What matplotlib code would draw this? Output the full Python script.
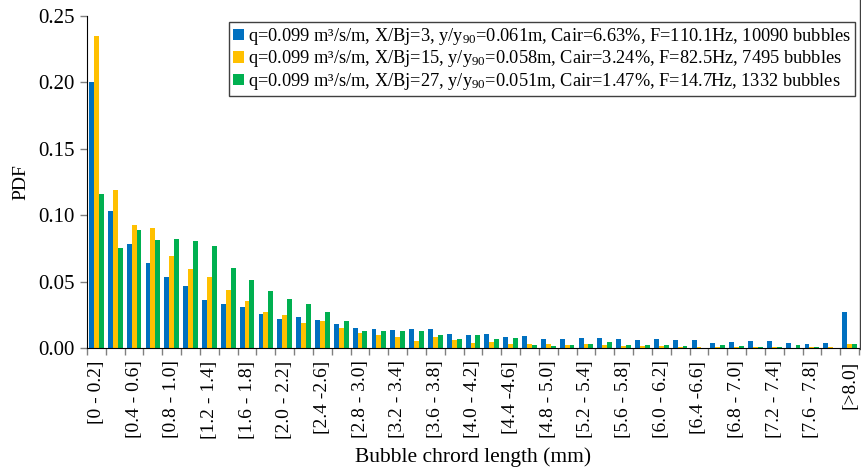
import numpy as np
import matplotlib
matplotlib.use("Agg")
from matplotlib import pyplot as plt
from matplotlib.lines import Line2D

plt.rcParams["font.family"] = ["Liberation Serif", "DejaVu Serif"]
plt.rcParams["mathtext.fontset"] = "custom"
plt.rcParams["mathtext.rm"] = "Liberation Serif"
plt.rcParams["mathtext.it"] = "Liberation Serif:italic"

# bin labels (every other one is shown on the axis)
bin_labels = ["[0 - 0.2]", "[0.2 - 0.4]", "[0.4 - 0.6]", "[0.6 - 0.8]", "[0.8 - 1.0]",
              "[1.0 - 1.2]", "[1.2 - 1.4]", "[1.4 - 1.6]", "[1.6 - 1.8]", "[1.8 - 2.0]",
              "[2.0 - 2.2]", "[2.2 - 2.4]", "[2.4 -2.6]", "[2.6 - 2.8]", "[2.8 - 3.0]",
              "[3.0 - 3.2]", "[3.2 - 3.4]", "[3.4 - 3.6]", "[3.6 - 3.8]", "[3.8 - 4.0]",
              "[4.0 - 4.2]", "[4.2 - 4.4]", "[4.4 -4.6]", "[4.6 - 4.8]", "[4.8 - 5.0]",
              "[5.0 - 5.2]", "[5.2 - 5.4]", "[5.4 - 5.6]", "[5.6 - 5.8]", "[5.8 - 6.0]",
              "[6.0 - 6.2]", "[6.2 - 6.4]", "[6.4 -6.6]", "[6.6 - 6.8]", "[6.8 - 7.0]",
              "[7.0 - 7.2]", "[7.2 - 7.4]", "[7.4 - 7.6]", "[7.6 - 7.8]", "[7.8 - 8.0]",
              "[>8.0]"]

pdf_xbj3 = [0.200, 0.1035, 0.078, 0.0637, 0.0534, 0.0466, 0.0361, 0.0329, 0.0308, 0.0256,
            0.022, 0.0233, 0.0213, 0.018, 0.0153, 0.014, 0.0135, 0.0143, 0.0143, 0.0108,
            0.010, 0.0105, 0.0085, 0.0088, 0.0068, 0.0068, 0.0078, 0.0075, 0.0068, 0.0058,
            0.0068, 0.006, 0.0058, 0.0038, 0.0043, 0.005, 0.005, 0.0035, 0.0033, 0.0038,
            0.0271]
pdf_xbj15 = [0.235, 0.1188, 0.0928, 0.0907, 0.0692, 0.0597, 0.0534, 0.0439, 0.0353, 0.0271,
             0.025, 0.0188, 0.020, 0.0153, 0.0113, 0.0095, 0.0085, 0.0055, 0.0083, 0.0058,
             0.0038, 0.0045, 0.003, 0.0033, 0.0033, 0.0023, 0.0033, 0.002, 0.0015, 0.0015,
             0.0015, 0.0005, 0.0005, 0.0008, 0.0005, 0.001, 0.0005, 0.0, 0.0005, 0.0005,
             0.003]
pdf_xbj27 = [0.1158, 0.0754, 0.0885, 0.0817, 0.082, 0.0805, 0.0765, 0.060, 0.0511, 0.0426,
             0.0366, 0.0329, 0.0271, 0.0203, 0.013, 0.0125, 0.013, 0.0125, 0.010, 0.007,
             0.0095, 0.007, 0.0075, 0.0023, 0.0013, 0.0023, 0.0028, 0.0043, 0.0023, 0.002,
             0.002, 0.0015, 0.0, 0.002, 0.0015, 0.0005, 0.0005, 0.002, 0.0005, 0.0,
             0.003]

series_labels = [
    "q=0.099 m³/s/m, X/Bj=3, y/y$_{90}$=0.061m, Cair=6.63%, F=110.1Hz, 10090 bubbles",
    "q=0.099 m³/s/m, X/Bj=15, y/y$_{90}$=0.058m, Cair=3.24%, F=82.5Hz, 7495 bubbles",
    "q=0.099 m³/s/m, X/Bj=27, y/y$_{90}$=0.051m, Cair=1.47%, F=14.7Hz, 1332 bubbles",
]
colors = ["#0070C0", "#FFC000", "#00B050"]

W, H = 861, 474
fig = plt.figure(figsize=(W / 100, H / 100), dpi=100)
ax = fig.add_axes([87 / W, (H - 348) / H, (859 - 87) / W, (348 - 16) / H])

x = np.arange(len(bin_labels))
width = 0.26
for k, (vals, lab, col) in enumerate(zip([pdf_xbj3, pdf_xbj15, pdf_xbj27], series_labels, colors)):
    ax.bar(x + (k - 1) * width, vals, width, color=col, label=lab, linewidth=0)

ax.set_xlim(-0.5, len(bin_labels) - 0.5)
ax.set_ylim(0, 0.25)
ax.set_yticks(np.arange(0, 0.251, 0.05))
ax.set_yticklabels([f"{v:.2f}" for v in np.arange(0, 0.251, 0.05)], fontsize=15)

ax.set_xticks(x[::2])
ax.set_xticklabels(bin_labels[::2], rotation=90, fontsize=14, va="top", ha="center")
ax.set_xticks(np.arange(-0.5, len(bin_labels)), minor=True)
ax.tick_params(axis="x", which="major", length=0, pad=9)
ax.tick_params(axis="x", which="minor", length=5, color="#808080", width=1)
ax.tick_params(axis="y", length=5, color="#808080", width=1, pad=4)

for side in ["top", "right"]:
    ax.spines[side].set_visible(False)
ax.spines["left"].set_color("black")
ax.spines["bottom"].set_color("black")

ax.set_ylabel("PDF", fontsize=14, labelpad=6)
ax.set_xlabel("Bubble chrord length (mm)", fontsize=15.5, labelpad=6)

leg = ax.legend(loc="upper right", bbox_to_anchor=(0.995, 0.982), borderaxespad=0,
                fontsize=13.2, handlelength=0.55, handleheight=0.55, handletextpad=0.25,
                labelspacing=0.08, borderpad=0.22, fancybox=False, framealpha=1)
leg.get_frame().set_edgecolor("#404040")
leg.get_frame().set_linewidth(1)

fig.add_artist(Line2D([859.5 / W, 859.5 / W], [1, (H - 349) / H], color="#404040", lw=1))

fig.savefig("out.png", dpi=100, facecolor="white")
